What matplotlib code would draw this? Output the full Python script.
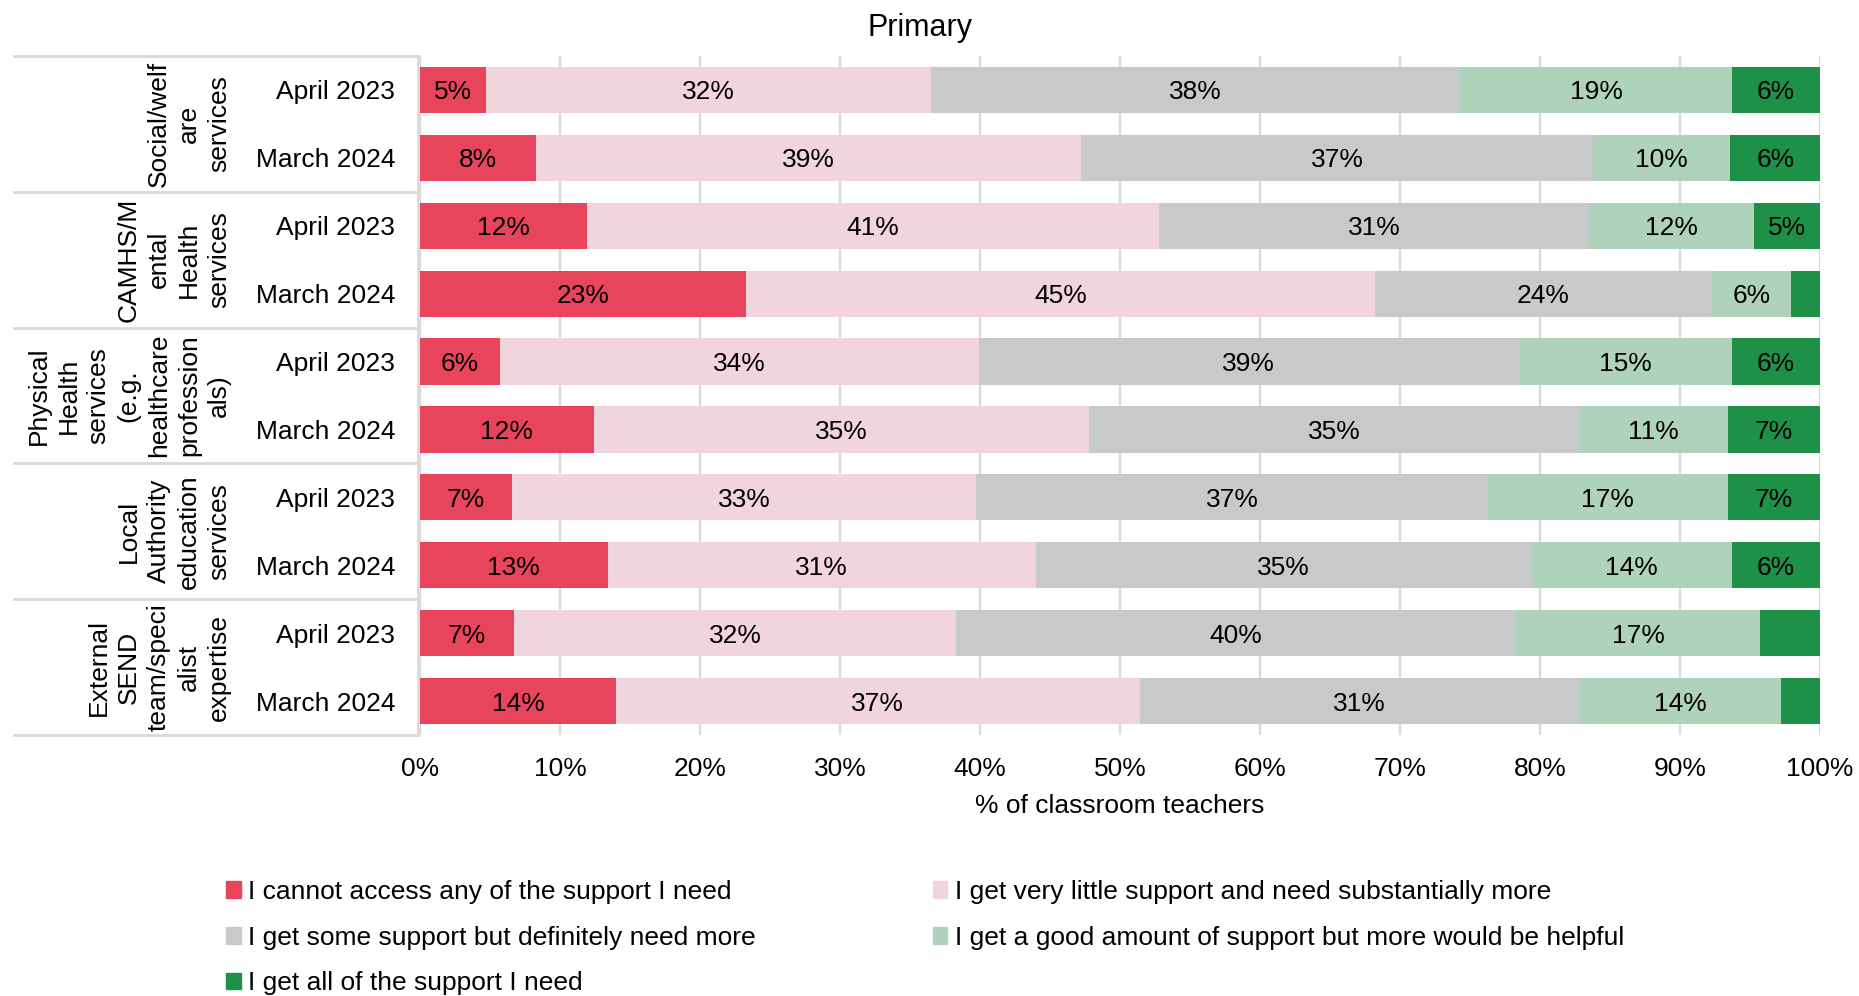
import numpy as np
import matplotlib
matplotlib.use("Agg")
import matplotlib.pyplot as plt
from matplotlib import transforms
from matplotlib.lines import Line2D
from matplotlib.patches import Patch

plt.rcParams['font.family'] = ['Liberation Sans', 'DejaVu Sans']

W, H = 1859, 996  # output size in pixels

# data
groups = ["Social/welf\nare\nservices",
          "CAMHS/M\nental\nHealth\nservices",
          "Physical\nHealth\nservices\n(e.g.\nhealthcare\nprofession\nals)",
          "Local\nAuthority\neducation\nservices",
          "External\nSEND\nteam/speci\nalist\nexpertise"]
periods = ["April 2023", "March 2024"]

responses = ["I cannot access any of the support I need",
             "I get very little support and need substantially more",
             "I get some support but definitely need more",
             "I get a good amount of support but more would be helpful",
             "I get all of the support I need"]
colors = ["#E8455D", "#F2D4DC", "#C8C9CB", "#AED3BA", "#1C9147"]

# one value per bar, top to bottom (group x period)
cannot = [4.7, 8.3, 11.9, 23.3, 5.7, 12.4, 6.6, 13.4, 6.7, 14.0]
very_little = [31.8, 38.9, 40.9, 44.9, 34.2, 35.4, 33.1, 30.6, 31.6, 37.4]
some = [37.8, 36.6, 30.7, 24.1, 38.6, 35.0, 36.6, 35.4, 40.0, 31.4]
good = [19.4, 9.8, 11.8, 5.6, 15.2, 10.6, 17.1, 14.3, 17.4, 14.4]
all_support = [6.3, 6.4, 4.7, 2.1, 6.3, 6.6, 6.6, 6.3, 4.3, 2.8]

series = [cannot, very_little, some, good, all_support]
bar_labels = periods * len(groups)

fig = plt.figure(figsize=(W / 100, H / 100), dpi=100)
ax = fig.add_axes([420 / W, 1 - 735 / H, 1400 / W, 679 / H])

y = np.arange(len(bar_labels))
left = np.zeros(len(y))
for vals, col in zip(series, colors):
    vals = np.array(vals)
    ax.barh(y, vals, left=left, height=0.68, color=col, zorder=2)
    for yi, (l, v) in enumerate(zip(left, vals)):
        if v >= 4.5:  # small segments are not labelled
            ax.text(l + v / 2, yi, f"{v:.0f}%", ha='center', va='center_baseline',
                    fontsize=19, color='black', zorder=3)
    left += vals

ax.set_xlim(0, 100)
ax.set_ylim(len(y) - 0.5, -0.5)
ax.set_xticks(np.arange(0, 101, 10), [f"{t}%" for t in range(0, 101, 10)])
ax.set_yticks(y, bar_labels)
ax.tick_params(axis='y', length=0, pad=18, labelsize=19)
ax.tick_params(axis='x', length=0, pad=16, labelsize=19)
ax.set_xlabel("% of classroom teachers", fontsize=19, labelpad=9.5)
for s in ax.spines.values():
    s.set_visible(False)
ax.set_axisbelow(True)
ax.xaxis.grid(True, color='#D9D9D9', lw=1.6, zorder=0)

# grouped category "table" on the left
blend = transforms.blended_transform_factory(fig.transFigure, ax.transData)
for g, name in enumerate(groups):
    ax.text(231 / W, 2 * g + 0.5, name, transform=blend, rotation=90,
            ha='right', va='center', multialignment='center', fontsize=19,
            linespacing=1.32)
for b in np.arange(-0.5, len(y), 2):
    ax.plot([14 / W, 418 / W], [b, b], transform=blend, color='#D9D9D9',
            lw=2, clip_on=False)
fig.add_artist(Line2D([418 / W, 418 / W], [1 - 56 / H, 1 - 735 / H],
                      color='#D9D9D9', lw=2))

fig.text(920 / W, 1 - 28 / H, "Primary", ha='center', va='center', fontsize=22)

# legend, row-wise order
order = [0, 2, 4, 1, 3]
handles = [Patch(color=colors[i]) for i in order]
fig.legend(handles, [responses[i] for i in order], ncol=2, loc='upper left',
           bbox_to_anchor=(226 / W, 1 - 880 / H), frameon=False, fontsize=19,
           handlelength=0.55, handleheight=0.6, handletextpad=0.3,
           columnspacing=6.7, labelspacing=0.82, borderaxespad=0, borderpad=0)

fig.savefig("out.png", dpi=100)
